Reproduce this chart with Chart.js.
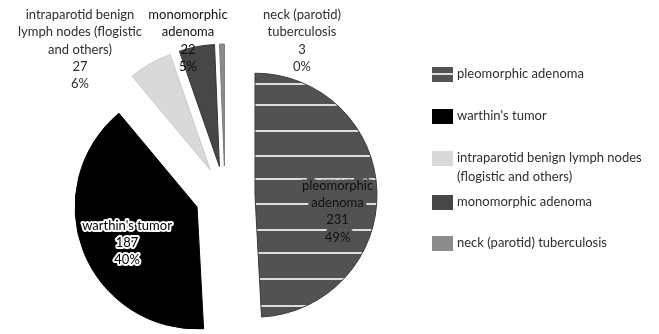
<!DOCTYPE html>
<html>
<head>
<meta charset="utf-8">
<script src="https://cdn.jsdelivr.net/npm/chart.js@4/dist/chart.umd.min.js"></script>
<style>
  html, body { margin: 0; padding: 0; background: #ffffff; overflow: hidden; }
  canvas { display: block; }
</style>
</head>
<body>
<canvas id="chart" width="659" height="334"></canvas>
<script>
// Benign parotid lesions: number of cases per diagnosis
const categories = [
  'pleomorphic adenoma',
  "warthin's tumor",
  'intraparotid benign lymph nodes (flogistic and others)',
  'monomorphic adenoma',
  'neck (parotid) tuberculosis'
];
const cases = [231, 187, 27, 22, 3];
const percentLabels = ['49%', '40%', '6%', '5%', '0%'];

// How the category names break inside the data labels and in the legend
const sliceLabelLines = [
  ['pleomorphic', 'adenoma'],
  ["warthin's tumor"],
  ['intraparotid benign', 'lymph nodes (flogistic', 'and others)'],
  ['monomorphic', 'adenoma'],
  ['neck (parotid)', 'tuberculosis']
];
const legendLines = [
  ['pleomorphic adenoma'],
  ["warthin's tumor"],
  ['intraparotid benign lymph nodes', '(flogistic and others)'],
  ['monomorphic adenoma'],
  ['neck (parotid) tuberculosis']
];

// ---- styling ----
const FONT_FAMILY = 'Lato, "Liberation Sans", sans-serif';
const FONT_SIZE = 13;
const TEXT_COLOR = '#2e2e2e';
const baseColors = ['#525252', '#000000', '#d9d9d9', '#474747', '#8c8c8c'];
const edgeColors = ['#3a3a3a', '#000000', '#c9c9c9', '#353535', '#7a7a7a'];
const STRIPE_COLOR = '#dcdcdc';
const stripeRows = [84, 105, 131, 156, 179, 204, 230, 253, 279, 306];
const explodeDistance = 30;
const LINE_H = 17.3;

const canvas = document.getElementById('chart');
const ctx = canvas.getContext('2d');

// horizontal-stripe fill for the first slice
function stripedFill(base) {
  const tile = document.createElement('canvas');
  tile.width = 8; tile.height = canvas.height;
  const g = tile.getContext('2d');
  g.fillStyle = base;
  g.fillRect(0, 0, tile.width, tile.height);
  g.fillStyle = STRIPE_COLOR;
  stripeRows.forEach(y => g.fillRect(0, y - 1, tile.width, 2));
  return ctx.createPattern(tile, 'repeat');
}
const sliceFills = baseColors.map((c, i) => i === 0 ? stripedFill(c) : c);

// Pull every slice away from the centre along its bisector
const explode = {
  id: 'explode',
  afterDatasetsUpdate(chart) {
    chart.getDatasetMeta(0).data.forEach(arc => {
      const mid = (arc.startAngle + arc.endAngle) / 2;
      arc.x += Math.cos(mid) * explodeDistance;
      arc.y += Math.sin(mid) * explodeDistance;
    });
  }
};

// Where each data label sits: inside the slice, or in the row above the pie
const labelPlacement = [
  { inside: true, dist: 0.69, turn: 12.8, fill: '#111111', halo: baseColors[0], haloWidth: 7 },
  { inside: true, dist: 0.645, turn: -5.7, fill: '#000000', halo: '#ffffff', haloWidth: 4 },
  { x: 80, top: 15 },
  { x: 188, top: 15, fill: '#111111' },
  { x: 302, top: 15 }
];

const sliceLabels = {
  id: 'sliceLabels',
  afterDatasetsDraw(chart) {
    const c = chart.ctx;
    const arcs = chart.getDatasetMeta(0).data;
    c.save();
    c.font = `${FONT_SIZE}px ${FONT_FAMILY}`;
    c.textAlign = 'center';
    c.textBaseline = 'middle';
    c.lineJoin = 'round';
    arcs.forEach((arc, i) => {
      const lines = sliceLabelLines[i].concat([String(cases[i]), percentLabels[i]]);
      const p = labelPlacement[i];
      let cx, firstY;
      if (p.inside) {
        const mid = (arc.startAngle + arc.endAngle) / 2 + p.turn * Math.PI / 180;
        const r = arc.outerRadius * p.dist;
        cx = arc.x + Math.cos(mid) * r;
        const cy = arc.y + Math.sin(mid) * r;
        firstY = cy - (lines.length - 1) * LINE_H / 2;
      } else {
        cx = p.x;
        firstY = p.top;
      }
      lines.forEach((t, k) => {
        const y = firstY + k * LINE_H;
        if (p.halo) {
          c.strokeStyle = p.halo;
          c.lineWidth = p.haloWidth;
          c.strokeText(t, cx, y);
        }
        c.fillStyle = p.fill || TEXT_COLOR;
        c.fillText(t, cx, y);
      });
    });
    c.restore();
  }
};

// Legend to the right of the pie
const legendLayout = { swatchX: 432, swatchW: 21, swatchH: 15, textX: 457, rows: [74, 116, 158, 202, 243], lineH: 19 };

const sideLegend = {
  id: 'sideLegend',
  afterDraw(chart) {
    const c = chart.ctx;
    const L = legendLayout;
    c.save();
    c.font = `${FONT_SIZE}px ${FONT_FAMILY}`;
    c.textAlign = 'left';
    c.textBaseline = 'middle';
    categories.forEach((name, i) => {
      const y = L.rows[i];
      const top = Math.round(y - L.swatchH / 2);
      c.fillStyle = baseColors[i];
      c.fillRect(L.swatchX, top, L.swatchW, L.swatchH);
      if (i === 0) {
        c.fillStyle = STRIPE_COLOR;
        c.fillRect(L.swatchX, top + 6, L.swatchW, 2);
      }
      c.fillStyle = TEXT_COLOR;
      legendLines[i].forEach((t, k) => c.fillText(t, L.textX, y + k * L.lineH));
    });
    c.restore();
  }
};

new Chart(ctx, {
  type: 'pie',
  data: {
    labels: categories,
    datasets: [{
      data: cases,
      backgroundColor: sliceFills,
      borderColor: edgeColors,
      borderWidth: 1,
      clip: false
    }]
  },
  options: {
    responsive: false,
    animation: false,
    events: [],
    radius: 122,
    layout: { padding: { left: 0, right: 209, top: 58, bottom: 0 } },
    plugins: {
      legend: { display: false },
      tooltip: { enabled: false }
    }
  },
  plugins: [explode, sliceLabels, sideLegend]
});
</script>
</body>
</html>
